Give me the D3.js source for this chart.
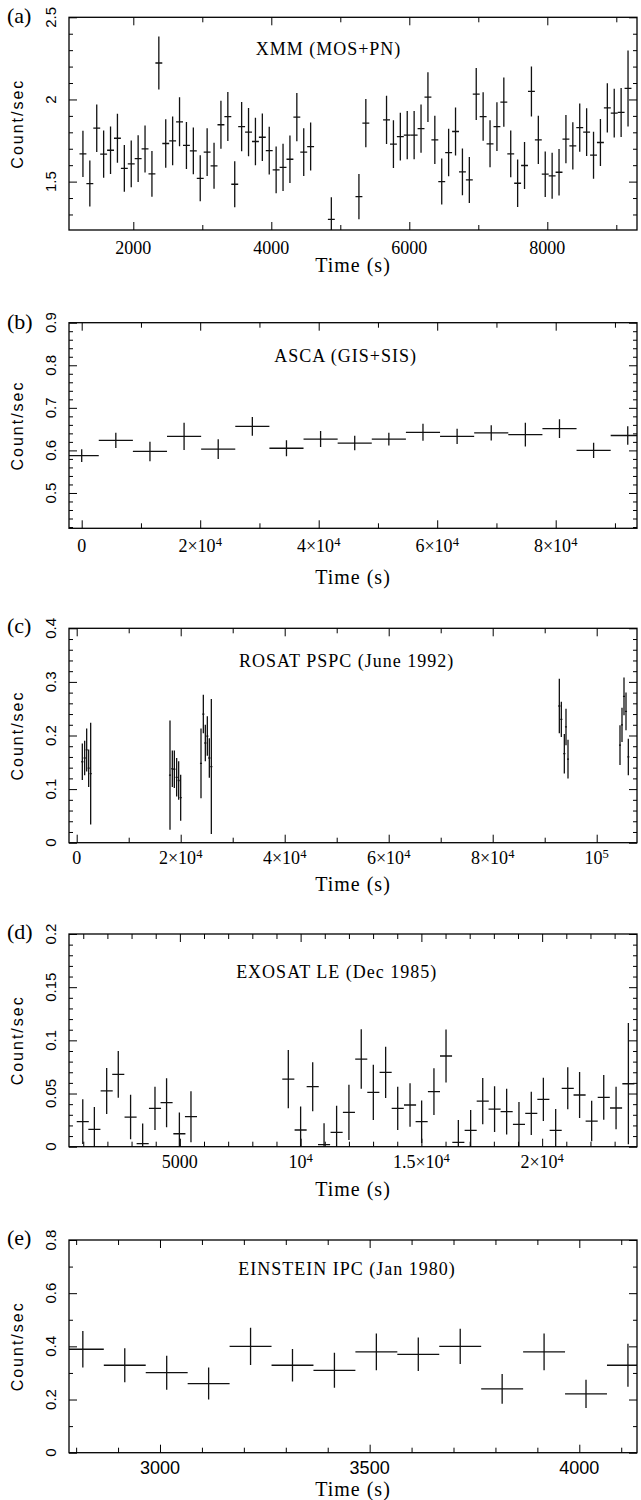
<!DOCTYPE html>
<html>
<head>
<meta charset="utf-8">
<script src="https://cdn.jsdelivr.net/npm/d3@7"></script>
<style>
  body { margin: 0; background: #fff; }
  svg { display: block; }
</style>
</head>
<body>
<svg id="fig" width="641" height="1500"></svg>
<script>
// ---------------- XMM (MOS+PN), 100 s bins ----------------
const xmmTime = [1270,1370,1470,1570,1670,1770,1870,1970,2070,2170,2270,2370,2470,2570,2670,2770,2870,2970,3070,3170,3270,3370,3470,3570,3670,3770,3870,3970,4070,4170,4270,4370,4470,4570,
  4870,5270,5370,
  5670,5770,5870,5970,6070,6170,6270,6370,6470,6570,6670,6770,6870,6970,7070,7170,7270,7370,7470,7570,7670,7770,7870,7970,8070,8170,8270,8370,8470,8570,8670,8770,8870,8970,9070,9170];
const xmmRate = [1.669,1.488,1.825,1.667,1.691,1.764,1.581,1.608,1.640,1.699,1.547,2.222,1.732,1.748,1.864,1.720,1.687,1.520,1.679,1.596,1.846,1.896,1.484,1.835,1.801,1.744,1.770,1.689,1.571,1.587,1.636,1.892,1.679,1.713,
  1.270,1.409,1.856,
  1.876,1.728,1.774,1.783,1.783,1.823,2.014,1.754,1.500,1.677,1.805,1.559,1.510,2.033,1.896,1.730,1.835,1.984,1.669,1.490,1.598,2.049,1.754,1.545,1.535,1.557,1.758,1.717,1.829,1.801,1.661,1.738,1.949,1.917,1.921,2.067];
const xmmErr = [0.141,0.140,0.145,0.144,0.144,0.149,0.142,0.142,0.142,0.143,0.139,0.161,0.147,0.149,0.149,0.143,0.142,0.140,0.145,0.140,0.146,0.149,0.140,0.150,0.147,0.144,0.145,0.145,0.142,0.144,0.144,0.147,0.145,0.146,
  0.135,0.138,0.147,
  0.147,0.145,0.145,0.147,0.147,0.147,0.151,0.147,0.140,0.145,0.146,0.142,0.140,0.158,0.148,0.143,0.148,0.150,0.142,0.144,0.143,0.152,0.147,0.139,0.140,0.142,0.147,0.144,0.147,0.145,0.143,0.143,0.150,0.148,0.149,0.231];
const xmmHalfBin = 50;
const xmmXTicks = [2000, 4000, 6000, 8000];
const xmmXTickLabels = ["2000", "4000", "6000", "8000"];
const xmmYTicks = [1.5, 2, 2.5];
const xmmYTickLabels = ["1.5", "2", "2.5"];

// ---------------- ASCA (GIS+SIS), one bin per orbit ----------------
const ascaTime = [0,5760,11520,17280,23040,28800,34560,40320,46080,51840,57600,63360,69120,74880,80640,86400,92160];
const ascaRate = [0.5875,0.6235,0.5976,0.633,0.603,0.6565,0.605,0.6267,0.6173,0.6267,0.6424,0.633,0.641,0.637,0.651,0.600,0.635];
const ascaErr  = [0.015,0.018,0.023,0.032,0.023,0.022,0.019,0.019,0.017,0.015,0.020,0.018,0.018,0.028,0.022,0.018,0.022];
const ascaHalfBin = 2880;
const ascaXTicks = [0, 20000, 40000, 60000, 80000];
const ascaXTickLabels = ["0", "2×10^4", "4×10^4", "6×10^4", "8×10^4"];
const ascaYTicks = [0.5, 0.6, 0.7, 0.8, 0.9];
const ascaYTickLabels = ["0.5", "0.6", "0.7", "0.8", "0.9"];

// ---------------- ROSAT PSPC (June 1992) ----------------
const rosatTime = [1083,1532,1917,2301,2686,
  17942,18391,18776,19224,19609,19994,
  23904,24352,24737,25122,25506,25891,
  92814,93198,93775,94096,94481,
  104481,104865,105250,105635,106083];
const rosatRate = [0.151,0.158,0.173,0.139,0.129,
  0.126,0.138,0.137,0.122,0.116,0.084,
  0.148,0.240,0.186,0.199,0.158,0.142,
  0.255,0.230,0.166,0.216,0.156,
  0.182,0.220,0.273,0.245,0.160];
const rosatErr = [0.034,0.032,0.040,0.035,0.095,
  0.102,0.034,0.035,0.036,0.036,0.043,
  0.065,0.036,0.034,0.037,0.037,0.126,
  0.051,0.033,0.037,0.034,0.036,
  0.037,0.032,0.035,0.035,0.034];
const rosatHalfBin = 200;
const rosatXTicks = [0, 20000, 40000, 60000, 80000, 100000];
const rosatXTickLabels = ["0", "2×10^4", "4×10^4", "6×10^4", "8×10^4", "10^5"];
const rosatYTicks = [0, 0.1, 0.2, 0.3, 0.4];
const rosatYTickLabels = ["0", "0.1", "0.2", "0.3", "0.4"];

// ---------------- EXOSAT LE (Dec 1985), 500 s bins ----------------
const exosatTime = [980,1460,1970,2450,2960,3460,3970,4450,4980,5460,
  9490,10000,10500,10970,11490,12000,12510,13010,13520,14020,14530,15010,15520,16020,16530,17040,17540,18030,18530,19040,19550,20050,20560,21060,21550,22050,22550,23060,23570];
const exosatRate = [0.0235,0.0163,0.0524,0.068,0.0279,0.0028,0.036,0.0414,0.0122,0.0282,
  0.0636,0.0157,0.0564,0.002,0.0135,0.0323,0.0824,0.0511,0.0699,0.036,0.0392,0.0235,0.0517,0.0853,0.004,0.0154,0.0429,0.0354,0.0329,0.021,0.0313,0.0445,0.0154,0.0549,0.0486,0.0241,0.0464,0.0364,0.0592];
const exosatErr = [0.021,0.021,0.0216,0.022,0.021,0.019,0.0204,0.023,0.020,0.024,
  0.0274,0.022,0.023,0.020,0.025,0.026,0.028,0.026,0.024,0.0204,0.0204,0.020,0.022,0.025,0.021,0.019,0.0217,0.0215,0.0215,0.021,0.0204,0.0204,0.020,0.0198,0.0216,0.019,0.021,0.020,0.057];
const exosatHalfBin = 250;
const exosatXTicks = [5000, 10000, 15000, 20000];
const exosatXTickLabels = ["5000", "10^4", "1.5×10^4", "2×10^4"];
const exosatYTicks = [0, 0.05, 0.1, 0.15, 0.2];
const exosatYTickLabels = ["0", "0.05", "0.1", "0.15", "0.2"];

// ---------------- EINSTEIN IPC (Jan 1980), 100 s bins ----------------
const einsteinTime = [2816,2916,3016,3116,3216,3316,3416,3516,3616,3716,3816,3916,4016,4116];
const einsteinRate = [0.389,0.329,0.301,0.260,0.400,0.329,0.310,0.379,0.370,0.400,0.240,0.379,0.221,0.329];
const einsteinErr  = [0.069,0.064,0.064,0.060,0.070,0.061,0.066,0.069,0.063,0.066,0.056,0.069,0.053,0.081];
const einsteinHalfBin = 50;
const einsteinXTicks = [3000, 3500, 4000];
const einsteinXTickLabels = ["3000", "3500", "4000"];
const einsteinYTicks = [0, 0.2, 0.4, 0.6, 0.8];
const einsteinYTickLabels = ["0", "0.2", "0.4", "0.6", "0.8"];

// ---------------- layout ----------------
const SERIF = "'Liberation Serif', 'DejaVu Serif', serif";
const SANS = "'Liberation Sans', Arial, sans-serif";
const L = 69, R = 637;

const panels = [
  { letter: "(a)", top: 17.3, bottom: 230, xDomain: [1068, 9300], yDomain: [1.2055, 2.5],
    time: xmmTime, rate: xmmRate, err: xmmErr, halfBin: xmmHalfBin,
    xTicks: xmmXTicks, xLabels: xmmXTickLabels, xMinor: 1000,
    yTicks: xmmYTicks, yLabels: xmmYTickLabels, yMinor: 0.1,
    title: "XMM (MOS+PN)", titleX: 328.5, titleY: 55,
    xLabelY: 253.5, xTitleY: 272, xTickFont: SERIF, letterY: 22.5 },
  { letter: "(b)", top: 322.7, bottom: 528.3, xDomain: [-2143, 93722], yDomain: [0.417, 0.9],
    time: ascaTime, rate: ascaRate, err: ascaErr, halfBin: ascaHalfBin,
    xTicks: ascaXTicks, xLabels: ascaXTickLabels, xMinor: 10000,
    yTicks: ascaYTicks, yLabels: ascaYTickLabels, yMinor: 0.02,
    title: "ASCA (GIS+SIS)", titleX: 345.7, titleY: 361.7,
    xLabelY: 552, xTitleY: 584, xTickFont: SERIF, letterY: 329 },
  { letter: "(c)", top: 628.3, bottom: 842.7, xDomain: [-1481, 107750], yDomain: [0, 0.4],
    time: rosatTime, rate: rosatRate, err: rosatErr, halfBin: rosatHalfBin,
    xTicks: rosatXTicks, xLabels: rosatXTickLabels, xMinor: 10000,
    yTicks: rosatYTicks, yLabels: rosatYTickLabels, yMinor: 0.02,
    title: "ROSAT PSPC (June 1992)", titleX: 346.7, titleY: 666.7,
    xLabelY: 864, xTitleY: 891, xTickFont: SERIF, letterY: 633 },
  { letter: "(d)", top: 934, bottom: 1146.7, xDomain: [410, 23927], yDomain: [0, 0.2],
    time: exosatTime, rate: exosatRate, err: exosatErr, halfBin: exosatHalfBin,
    xTicks: exosatXTicks, xLabels: exosatXTickLabels, xMinor: 1000,
    yTicks: exosatYTicks, yLabels: exosatYTickLabels, yMinor: 0.01,
    title: "EXOSAT LE (Dec 1985)", titleX: 336.7, titleY: 978.3,
    xLabelY: 1168, xTitleY: 1196, xTickFont: SERIF, letterY: 939 },
  { letter: "(e)", top: 1240, bottom: 1452.7, xDomain: [2783, 4137.6], yDomain: [0, 0.8],
    time: einsteinTime, rate: einsteinRate, err: einsteinErr, halfBin: einsteinHalfBin,
    xTicks: einsteinXTicks, xLabels: einsteinXTickLabels, xMinor: 100,
    yTicks: einsteinYTicks, yLabels: einsteinYTickLabels, yMinor: 0.1,
    title: "EINSTEIN IPC (Jan 1980)", titleX: 347, titleY: 1275,
    xLabelY: 1474.3, xTitleY: 1496, xTickFont: SANS, letterY: 1244.5 }
];

const svg = d3.select("#fig");

// multiples of step inside a domain
function multiples(domain, step) {
  const lo = Math.ceil(domain[0] / step - 1e-9), hi = Math.floor(domain[1] / step + 1e-9);
  return d3.range(lo, hi + 1).map(k => +(k * step).toFixed(6));
}

// text with an optional "^exponent" part as a raised tspan
function setLabel(textSel, str) {
  const [base, exp] = str.split("^");
  textSel.append("tspan").text(base);
  if (exp !== undefined) {
    textSel.append("tspan").attr("dy", "-0.48em").attr("font-size", "0.7em").text(exp);
  }
}

function tickAxis(g, axis, transform) {
  g.append("g")
    .attr("transform", transform)
    .call(axis)
    .call(s => s.select(".domain").remove())
    .call(s => s.selectAll(".tick line").attr("stroke", "#000").attr("stroke-width", 1));
}

panels.forEach((p, i) => {
  const g = svg.append("g");
  const x = d3.scaleLinear().domain(p.xDomain).range([L, R]);
  const y = d3.scaleLinear().domain(p.yDomain).range([p.bottom, p.top]);

  const xMinor = multiples(p.xDomain, p.xMinor).filter(v => !p.xTicks.includes(v));
  const yMinor = multiples(p.yDomain, p.yMinor).filter(v => !p.yTicks.some(t => Math.abs(t - v) < 1e-6));

  // inward ticks on all four sides
  const mk = (fn, scale, vals, len) => fn(scale).tickValues(vals).tickSize(-len).tickFormat("");
  tickAxis(g, mk(d3.axisBottom, x, xMinor, 5), `translate(0,${p.bottom})`);
  tickAxis(g, mk(d3.axisBottom, x, p.xTicks, 8), `translate(0,${p.bottom})`);
  tickAxis(g, mk(d3.axisTop, x, xMinor, 5), `translate(0,${p.top})`);
  tickAxis(g, mk(d3.axisTop, x, p.xTicks, 8), `translate(0,${p.top})`);
  tickAxis(g, mk(d3.axisLeft, y, yMinor, 4), `translate(${L},0)`);
  tickAxis(g, mk(d3.axisLeft, y, p.yTicks, 8), `translate(${L},0)`);
  tickAxis(g, mk(d3.axisRight, y, yMinor, 4), `translate(${R},0)`);
  tickAxis(g, mk(d3.axisRight, y, p.yTicks, 8), `translate(${R},0)`);

  // data: horizontal bin bars and vertical error bars
  const clipId = "clip" + i;
  svg.append("clipPath").attr("id", clipId)
    .append("rect").attr("x", L).attr("y", p.top).attr("width", R - L).attr("height", p.bottom - p.top);
  const pts = p.time.map((t, k) => ({ t, v: p.rate[k], e: p.err[k] }));
  const data = g.append("g").attr("clip-path", `url(#${clipId})`)
    .attr("stroke", "#111").attr("stroke-width", 1.3).attr("fill", "none");
  data.selectAll("line.h").data(pts).join("line").attr("class", "h")
    .attr("x1", d => x(d.t - p.halfBin)).attr("x2", d => x(d.t + p.halfBin))
    .attr("y1", d => y(d.v)).attr("y2", d => y(d.v));
  data.selectAll("line.v").data(pts).join("line").attr("class", "v")
    .attr("x1", d => x(d.t)).attr("x2", d => x(d.t))
    .attr("y1", d => y(d.v - d.e)).attr("y2", d => y(d.v + d.e));

  // frame
  g.append("rect").attr("x", L).attr("y", p.top).attr("width", R - L).attr("height", p.bottom - p.top)
    .attr("fill", "none").attr("stroke", "#000").attr("stroke-width", 1.3);

  // x tick labels
  p.xTicks.forEach((v, k) => {
    const t = g.append("text").attr("x", x(v)).attr("y", p.xLabelY)
      .attr("text-anchor", "middle").attr("font-family", p.xTickFont).attr("font-size", 18);
    setLabel(t, p.xLabels[k]);
  });

  // y tick labels, rotated
  p.yTicks.forEach((v, k) => {
    g.append("text").attr("transform", `translate(56,${y(v)}) rotate(-90)`)
      .attr("text-anchor", "middle").attr("font-family", SANS).attr("font-size", 15)
      .text(p.yLabels[k]);
  });

  // axis titles
  g.append("text").attr("x", (L + R) / 2).attr("y", p.xTitleY)
    .attr("text-anchor", "middle").attr("font-family", SERIF).attr("font-size", 20)
    .attr("letter-spacing", 1).text("Time (s)");
  g.append("text").attr("transform", `translate(22.5,${(p.top + p.bottom) / 2}) rotate(-90)`)
    .attr("text-anchor", "middle").attr("font-family", SANS).attr("font-size", 16)
    .attr("letter-spacing", 2).text("Count/sec");

  // instrument title and panel letter
  g.append("text").attr("x", p.titleX).attr("y", p.titleY)
    .attr("text-anchor", "middle").attr("font-family", SERIF).attr("font-size", 18)
    .attr("letter-spacing", 1).text(p.title);
  g.append("text").attr("x", 7).attr("y", p.letterY)
    .attr("font-family", SERIF).attr("font-size", 22).text(p.letter);
});
</script>
</body>
</html>
